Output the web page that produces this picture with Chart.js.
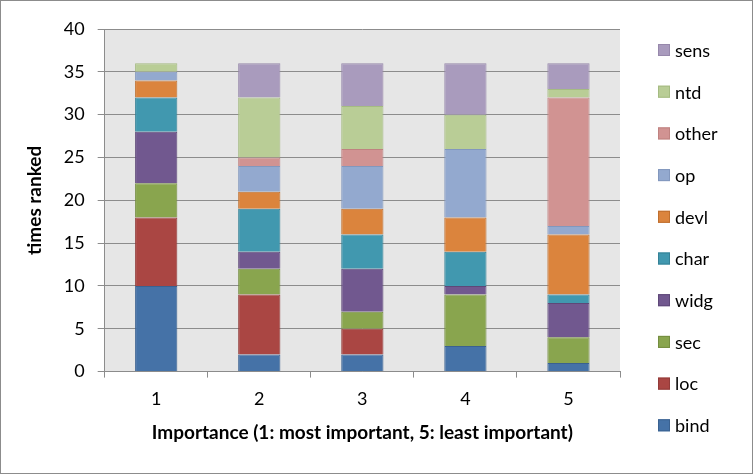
<!DOCTYPE html>
<html>
<head>
<meta charset="utf-8">
<script src="https://cdn.jsdelivr.net/npm/chart.js@4/dist/chart.umd.min.js"></script>
<style>
  html, body { margin: 0; padding: 0; background: #fff; }
  #wrap { width: 753px; height: 474px; }
</style>
</head>
<body>
<div id="wrap"><canvas id="rankChart" width="753" height="474"></canvas></div>
<script>
const categories = ['1', '2', '3', '4', '5'];

// times ranked, per feature, per importance level
const bind  = [10, 2, 2, 3, 1];
const loc   = [8, 7, 3, 0, 0];
const sec   = [4, 3, 2, 6, 3];
const widg  = [6, 2, 5, 1, 4];
const charV = [4, 5, 4, 4, 1];
const devl  = [2, 2, 3, 4, 7];
const op    = [1, 3, 5, 8, 1];
const other = [0, 1, 2, 0, 15];
const ntd   = [1, 7, 5, 4, 1];
const sens  = [0, 4, 5, 6, 3];

const yTicks = [0, 5, 10, 15, 20, 25, 30, 35, 40];

const FONT = 'Lato, "Open Sans", sans-serif';

function ds(label, data, fill, edge) {
    return { label: label, data: data, backgroundColor: fill, borderColor: edge, borderWidth: 1 };
}

const plotBg = {
    id: 'plotBg',
    beforeDraw(chart) {
        const { ctx, chartArea: a } = chart;
        ctx.save();
        ctx.fillStyle = '#fff';
        ctx.fillRect(0, 0, chart.width, chart.height);
        ctx.fillStyle = '#e6e6e6';
        ctx.fillRect(a.left, a.top, a.right - a.left, a.bottom - a.top);
        ctx.strokeStyle = '#8c8c8c';
        ctx.lineWidth = 1;
        ctx.strokeRect(0.5, 0.5, chart.width - 1, chart.height - 1);
        ctx.restore();
    }
};

// legend on the right, drawn by hand so it keeps one column
const sideLegend = {
    id: 'sideLegend',
    afterDraw(chart) {
        const ctx = chart.ctx;
        const sets = chart.data.datasets.slice().reverse();
        const step = 41.7;
        ctx.save();
        ctx.font = '18px ' + FONT;
        ctx.textBaseline = 'middle';
        sets.forEach((d, i) => {
            const cy = 50 + i * step;
            ctx.fillStyle = d.backgroundColor;
            ctx.fillRect(658, cy - 6, 12, 12);
            ctx.strokeStyle = d.borderColor;
            ctx.lineWidth = 1;
            ctx.strokeRect(658.5, cy - 5.5, 11, 11);
            ctx.fillStyle = '#000';
            ctx.fillText(d.label, 675, cy + 1);
        });
        ctx.restore();
    }
};

new Chart(document.getElementById('rankChart'), {
    type: 'bar',
    data: {
        labels: categories,
        datasets: [
            ds('bind', bind, '#4572a7', '#3a6190'),
            ds('loc', loc, '#aa4643', '#923b39'),
            ds('sec', sec, '#89a54e', '#748d40'),
            ds('widg', widg, '#71588f', '#5e4878'),
            ds('char', charV, '#4198af', '#358196'),
            ds('devl', devl, '#db843d', '#bf6f2e'),
            ds('op', op, '#93a9cf', '#8297bd'),
            ds('other', other, '#d19392', '#bf8280'),
            ds('ntd', ntd, '#b9cd96', '#a5bb82'),
            ds('sens', sens, '#a99bbd', '#9788ab')
        ]
    },
    options: {
        responsive: false,
        animation: false,
        devicePixelRatio: 1,
        layout: { padding: { top: 29, left: 15, right: 133, bottom: 30 } },
        datasets: { bar: { categoryPercentage: 1, barPercentage: 0.41 } },
        plugins: {
            legend: { display: false },
            tooltip: { enabled: false }
        },
        scales: {
            x: {
                stacked: true,
                grid: { display: true, drawOnChartArea: false, drawTicks: true, tickLength: 6, offset: true, color: '#8c8c8c' },
                border: { color: '#8c8c8c' },
                ticks: { font: { family: FONT, size: 18 }, color: '#000', padding: 11 },
                title: {
                    display: true,
                    text: 'Importance (1: most important, 5: least important)',
                    font: { family: FONT, size: 19, weight: 'bold' },
                    color: '#000',
                    padding: { top: 0, bottom: 0 }
                }
            },
            y: {
                stacked: true,
                min: 0,
                max: 40,
                afterBuildTicks(axis) { axis.ticks = yTicks.map(v => ({ value: v })); },
                grid: { color: '#8c8c8c', tickLength: 7 },
                border: { color: '#8c8c8c' },
                ticks: { font: { family: FONT, size: 18 }, color: '#000', padding: 13 },
                title: {
                    display: true,
                    text: 'times ranked',
                    font: { family: FONT, size: 19, weight: 'bold' },
                    color: '#000',
                    padding: { top: 8, bottom: 5 }
                }
            }
        }
    },
    plugins: [plotBg, sideLegend]
});
</script>
</body>
</html>
